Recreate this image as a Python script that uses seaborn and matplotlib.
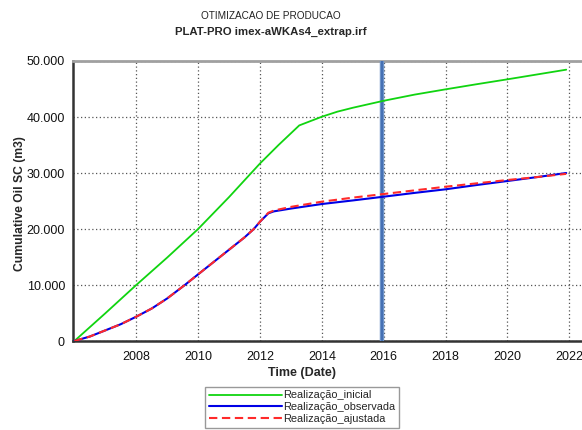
import matplotlib
matplotlib.use("Agg")
import matplotlib.pyplot as plt
import matplotlib.ticker as mticker
import seaborn as sns

# Decimal years and cumulative oil (m3) for each realization
inicial_t = [2006.0, 2007.0, 2008.0, 2009.0, 2010.0, 2011.0, 2012.0, 2012.6, 2013.27,
             2014.0, 2014.5, 2015.0, 2016.0, 2017.0, 2018.0, 2019.0, 2020.0, 2021.9]
inicial_v = [0, 4950, 10000, 14900, 20000, 25700, 31700, 35000, 38500,
             40050, 40950, 41650, 42900, 44000, 44940, 45850, 46730, 48450]

observada_t = [2006.0, 2006.5, 2007.0, 2007.5, 2008.0, 2008.5, 2009.0, 2009.57, 2010.0,
               2010.5, 2011.0, 2011.5, 2011.8, 2012.0, 2012.27, 2012.45, 2013.0, 2014.0,
               2015.0, 2016.0, 2017.0, 2018.0, 2019.0, 2020.0, 2021.0, 2021.9]
observada_v = [0, 800, 1900, 3000, 4340, 5800, 7600, 10000, 11900,
               14100, 16300, 18500, 20000, 21300, 22800, 23150, 23650, 24460,
               25100, 25770, 26450, 27090, 27850, 28570, 29300, 30000]

ajustada_t = [2006.0, 2006.5, 2007.0, 2007.5, 2008.0, 2008.5, 2009.0, 2009.57, 2010.0,
              2010.5, 2011.0, 2011.5, 2011.8, 2012.0, 2012.27, 2012.45, 2013.0, 2014.0,
              2015.0, 2016.0, 2017.0, 2018.0, 2019.0, 2020.0, 2021.0, 2021.9]
ajustada_v = [0, 800, 1900, 3000, 4340, 5800, 7600, 10000, 11900,
              14100, 16300, 18500, 20000, 21300, 22900, 23300, 23950, 24880,
              25600, 26250, 26900, 27550, 28150, 28750, 29300, 29850]

marker_year = 2015.93
x_ticks = [2008, 2010, 2012, 2014, 2016, 2018, 2020, 2022]
y_ticks = [0, 10000, 20000, 30000, 40000, 50000]

title_top = "OTIMIZACAO DE PRODUCAO"
title_main = "PLAT-PRO imex-aWKAs4_extrap.irf"
x_label = "Time (Date)"
y_label = "Cumulative Oil SC (m3)"
names = ["Realização_inicial", "Realização_observada", "Realização_ajustada"]

sns.set_style("white")
plt.rcParams["font.family"] = ["Liberation Sans", "DejaVu Sans"]

fig = plt.figure(figsize=(5.82, 4.30), dpi=100)
ax = fig.add_axes([73.3 / 582, 1 - 341 / 430, 1 - 73.3 / 582, (341 - 61) / 430])

# current-date marker
ax.axvline(marker_year, color="#6d93c9", lw=3.2, zorder=3)
ax.axvline(marker_year, color="#3f6bb0", lw=1.2, zorder=3)

sns.lineplot(x=inicial_t, y=inicial_v, ax=ax, color="#10d410", lw=1.3,
             label=names[0], zorder=4)
sns.lineplot(x=observada_t, y=observada_v, ax=ax, color="#0000e6", lw=1.5,
             label=names[1], zorder=4)
sns.lineplot(x=ajustada_t, y=ajustada_v, ax=ax, color="#ff2a2a", lw=1.5,
             dashes=(4, 2.2), label=names[2], zorder=5)

ax.set_xlim(2005.965, 2022.41)
ax.set_ylim(0, 50000)
ax.set_xticks(x_ticks)
ax.set_yticks(y_ticks)
ax.yaxis.set_major_formatter(
    mticker.FuncFormatter(lambda v, p: f"{int(v):,}".replace(",", ".")))

ax.grid(True, color="#555555", lw=0.9, linestyle=(0, (1, 2)))
for s in ["left", "bottom"]:
    ax.spines[s].set_color("#333333")
    ax.spines[s].set_linewidth(1.8)
ax.spines["top"].set_color("#a0a0a0")
ax.spines["top"].set_linewidth(2)
ax.spines["right"].set_visible(False)

ax.tick_params(axis="both", direction="out", length=4, width=1.5,
               color="#333333", labelsize=9, pad=3, labelcolor="#111111")
ax.tick_params(axis="y", pad=2)

ax.set_xlabel("")
ax.set_ylabel("")
fig.text(301.7 / 582, 1 - 373 / 430, x_label, ha="center", va="center",
         fontsize=9, fontweight="bold")
fig.text(20 / 582, 1 - 204 / 430, y_label, ha="center", va="center",
         rotation=90, fontsize=8.7, fontweight="bold")
fig.text(271 / 582, 1 - 16 / 430, title_top, ha="center", va="center",
         fontsize=7.2, color="#222222")
fig.text(271 / 582, 1 - 32 / 430, title_main, ha="center", va="center",
         fontsize=8.2, fontweight="bold")

ax.get_legend().remove()
handles, labels = ax.get_legend_handles_labels()
leg = fig.legend(handles, labels, loc="upper left",
                 bbox_to_anchor=(205 / 582, 1 - 386.5 / 430),
                 fontsize=7.9, handlelength=6.7, handletextpad=0.1,
                 labelspacing=0.17, borderpad=0.35, borderaxespad=0,
                 frameon=True, fancybox=False)
leg.get_frame().set_edgecolor("#808080")
leg.get_frame().set_linewidth(1.0)

fig.savefig("out.png", dpi=100)
